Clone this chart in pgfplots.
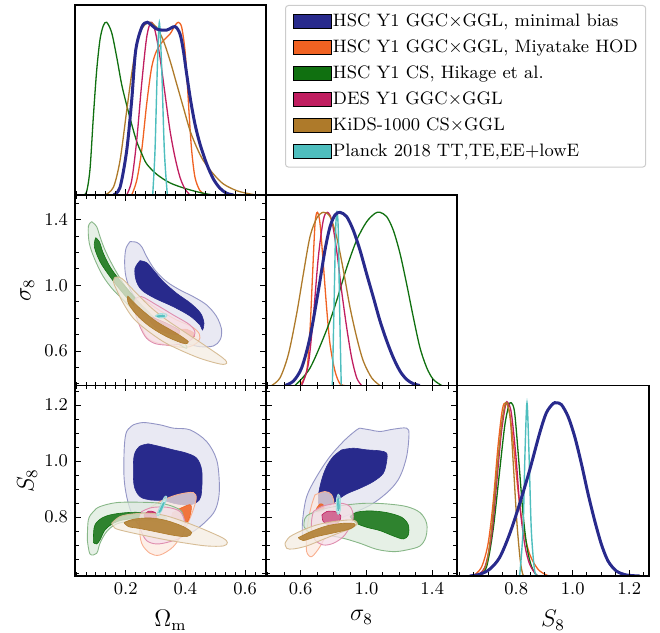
\documentclass[border=0pt]{standalone}
\usepackage{pgfplots}
\pgfplotsset{compat=1.18}

\definecolor{cB}{RGB}{40,42,140}
\definecolor{cO}{RGB}{240,98,34}
\definecolor{cG}{RGB}{16,112,16}
\definecolor{cM}{RGB}{192,30,96}
\definecolor{cK}{RGB}{174,122,42}
\definecolor{cC}{RGB}{78,190,190}

\pgfplotsset{
  corner/.style={scale only axis, width=95.5pt, height=95.25pt, anchor=south west,
    axis on top, clip=true,
    axis line style={line width=0.9pt}, tick align=inside,
    major tick length=3pt, minor tick length=1.8pt,
    tick style={black, line width=0.45pt},
    tick label style={font=\fontsize{9.3}{11}\selectfont},
    label style={font=\fontsize{12}{14}\selectfont},
    x tick label style={/pgf/number format/.cd, fixed, fixed zerofill, precision=1},
    y tick label style={/pgf/number format/.cd, fixed, fixed zerofill, precision=1},
    xlabel style={at={(axis description cs:0.5,0)}, anchor=north, yshift=-17pt, inner sep=0pt},
    ylabel style={at={(axis description cs:-0.25,0.5)}, anchor=center, inner sep=0pt}},
  xOm/.style={xmin=0.03, xmax=0.67, xtick={0.2,0.4,0.6},
    minor xtick={0.0333,0.0667,0.1,0.1333,0.1667,0.2333,0.2667,0.3,0.3333,0.3667,0.4333,0.4667,0.5,0.5333,0.5667,0.6333,0.6667}},
  xsig/.style={xmin=0.39, xmax=1.55, xtick={0.6,1.0,1.4}, minor xtick={0.4,0.5,0.7,0.8,0.9,1.1,1.2,1.3,1.5}},
  ysig/.style={ymin=0.39, ymax=1.55, ytick={0.6,1.0,1.4}, minor ytick={0.4,0.5,0.7,0.8,0.9,1.1,1.2,1.3,1.5}},
  xS/.style={xmin=0.59, xmax=1.27, xtick={0.8,1.0,1.2}, minor xtick={0.6,0.65,0.7,0.75,0.85,0.9,0.95,1.05,1.1,1.15,1.25}},
  yS/.style={ymin=0.59, ymax=1.27, ytick={0.8,1.0,1.2}, minor ytick={0.6,0.65,0.7,0.75,0.85,0.9,0.95,1.05,1.1,1.15,1.25}},
  dens/.style={ymin=0, ymax=1.1, ytick=\empty, xtick pos=left},
  cout/.style={smooth, tension=0.55, draw=#1!50!white, line width=0.45pt, fill=#1!14!white, fill opacity=0.75, forget plot},
  cin/.style={smooth, tension=0.55, draw=#1, line width=0.3pt, fill=#1, fill opacity=0.85, forget plot},
  pd/.style={smooth, tension=0.5, color=#1, line width=0.65pt, forget plot},
}

\begin{document}
\begin{tikzpicture}
\useasboundingbox (0,0) rectangle (330pt,316.5pt);

% ---------------- Omega_m marginal ----------------
\begin{axis}[corner, dens, xOm, xticklabels={}, at={(37.5pt,219pt)}, height=95pt,
  legend cell align=left,
  legend image code/.code={\fill[#1, sharp corners] (0pt,-3.4pt) rectangle (19.2pt,3.4pt);},
  legend style={at={(1.0995,1.0)}, anchor=north west, draw=black!20, line width=0.5pt,
    rounded corners=1.5pt, fill=white, font=\fontsize{9}{11}\selectfont,
    inner xsep=3.5pt, inner ysep=3pt, row sep=3.2pt,
    nodes={inner sep=0.5pt, text height=6.8pt, text depth=2pt},
    /tikz/every even column/.append style={column sep=7pt}}]
\addlegendimage{fill=cB}\addlegendentry{HSC Y1 GGC$\times$GGL, minimal bias}
\addlegendimage{fill=cO}\addlegendentry{HSC Y1 GGC$\times$GGL, Miyatake HOD}
\addlegendimage{fill=cG}\addlegendentry{HSC Y1 CS, Hikage et al.}
\addlegendimage{fill=cM}\addlegendentry{DES Y1 GGC$\times$GGL}
\addlegendimage{fill=cK}\addlegendentry{KiDS-1000 CS$\times$GGL}
\addlegendimage{fill=cC}\addlegendentry{Planck 2018 TT,TE,EE+lowE}
\addplot[pd=cO] coordinates {(0.2199,0) (0.2367,0.083) (0.2534,0.257) (0.2702,0.527) (0.2869,0.739) (0.3037,0.836) (0.326,0.894) (0.3484,0.932) (0.3651,0.981) (0.3763,1.0) (0.3875,0.971) (0.3986,0.836) (0.4064,0.643) (0.4131,0.45) (0.421,0.257) (0.4321,0.102) (0.4489,0.025) (0.4712,0)};
\addplot[pd=cG] coordinates {(0.058,0) (0.0691,0.02) (0.0803,0.15) (0.0914,0.45) (0.1026,0.72) (0.1138,0.90) (0.1249,0.98) (0.1361,1.0) (0.1529,0.94) (0.1696,0.80) (0.1864,0.64) (0.2032,0.52) (0.2199,0.41) (0.2367,0.31) (0.2534,0.24) (0.2702,0.18) (0.3037,0.12) (0.3484,0.07) (0.4042,0.035) (0.4601,0.01) (0.4936,0)};
\addplot[pd=cM] coordinates {(0.2032,0) (0.2199,0.083) (0.2367,0.315) (0.2534,0.643) (0.2702,0.913) (0.2847,1.0) (0.2981,0.952) (0.3148,0.797) (0.3316,0.585) (0.3484,0.373) (0.3651,0.218) (0.3819,0.102) (0.3986,0.035) (0.4154,0)};
\addplot[pd=cK] coordinates {(0.1305,0) (0.1585,0.044) (0.1808,0.199) (0.2032,0.488) (0.2199,0.701) (0.2367,0.875) (0.2534,0.961) (0.2702,0.994) (0.2813,1.0) (0.3037,0.971) (0.326,0.894) (0.3484,0.778) (0.3707,0.643) (0.3931,0.507) (0.4154,0.373) (0.4377,0.276) (0.4601,0.199) (0.4936,0.122) (0.5271,0.064) (0.5718,0.025) (0.6164,0.006) (0.6388,0)};
\addplot[pd=cC, line width=0.7pt] coordinates {(0.2903,0) (0.2981,0.257) (0.3059,0.739) (0.3126,1.0) (0.3204,0.739) (0.3294,0.257) (0.3394,0)};
\addplot[pd=cB, line width=1.5pt] coordinates {(0.1585,0) (0.1808,0.044) (0.2032,0.257) (0.2199,0.546) (0.2333,0.836) (0.2534,0.97) (0.2724,1.0) (0.3037,0.961) (0.3372,0.955) (0.3651,0.975) (0.3819,0.932) (0.3931,0.836) (0.4042,0.70) (0.4176,0.546) (0.4321,0.41) (0.4489,0.295) (0.4712,0.18) (0.4936,0.093) (0.5159,0.039) (0.5383,0.01) (0.561,0)};
\end{axis}

% ---------------- sigma_8 vs Omega_m ----------------
\begin{axis}[corner, xOm, ysig, xticklabels={}, ylabel={$\sigma_8$}, at={(37.5pt,123.75pt)}]
\addplot[cout=cB] coordinates {(0.2143,1.2658) (0.2367,1.2617) (0.2534,1.2354) (0.2702,1.1745) (0.2981,1.0933) (0.3372,1.0222) (0.3819,0.9715) (0.4265,0.9309) (0.4712,0.8802) (0.5047,0.8091) (0.5215,0.7279) (0.5159,0.667) (0.4936,0.6305) (0.4489,0.6264) (0.4042,0.6467) (0.3595,0.6873) (0.3149,0.7482) (0.2758,0.8193) (0.2478,0.8802) (0.2255,0.941) (0.2087,1.0019) (0.1987,1.073) (0.1965,1.1542) (0.2009,1.2252) (0.2143,1.2658)};
\addplot[cin=cB, fill opacity=1] coordinates {(0.2478,1.1501) (0.2702,1.1379) (0.2925,1.0933) (0.326,1.0222) (0.3707,0.9512) (0.4176,0.8903) (0.4511,0.8294) (0.4623,0.7685) (0.4567,0.7279) (0.4489,0.7584) (0.4154,0.8132) (0.3595,0.87) (0.2981,0.9208) (0.2534,0.9715) (0.2344,1.0324) (0.2311,1.1034) (0.2478,1.1501)};
\addplot[cout=cO] coordinates {(0.2422,0.9269) (0.2702,0.9005) (0.3149,0.8457) (0.3707,0.7888) (0.421,0.7482) (0.4467,0.7036) (0.4433,0.6569) (0.4042,0.6224) (0.3372,0.6366) (0.2814,0.667) (0.2568,0.7279) (0.2478,0.8091) (0.2389,0.8802) (0.2422,0.9269)};
\addplot[cin=cO] coordinates {(0.3651,0.732) (0.4042,0.732) (0.4288,0.7076) (0.4243,0.6751) (0.3931,0.667) (0.3651,0.6914) (0.3651,0.732)};
\addplot[cout=cG] coordinates {(0.0859,1.3876) (0.1026,1.3571) (0.1138,1.2962) (0.1306,1.2151) (0.1585,1.1136) (0.192,1.012) (0.2255,0.9309) (0.2702,0.8497) (0.3149,0.7685) (0.3595,0.7076) (0.3986,0.6467) (0.4042,0.6163) (0.3819,0.6366) (0.3372,0.6873) (0.2925,0.7482) (0.2478,0.8091) (0.2032,0.8903) (0.1585,0.9715) (0.125,1.0527) (0.0971,1.1542) (0.078,1.2556) (0.0747,1.3571) (0.0859,1.3876)};
\addplot[cin=cG] coordinates {(0.0993,1.2902) (0.1116,1.2658) (0.125,1.1948) (0.1473,1.1136) (0.1752,1.0425) (0.2087,0.9715) (0.2478,0.8903) (0.2925,0.8091) (0.3372,0.7482) (0.3707,0.6873) (0.354,0.6873) (0.3149,0.738) (0.2702,0.799) (0.2255,0.8802) (0.1864,0.9613) (0.1473,1.0527) (0.1138,1.144) (0.0948,1.2354) (0.0993,1.2902)};
\addplot[cout=cM] coordinates {(0.2311,0.9147) (0.2534,0.9309) (0.3037,0.8802) (0.3595,0.8193) (0.4154,0.7584) (0.432,0.7076) (0.4098,0.6569) (0.3595,0.6366) (0.3037,0.6427) (0.2702,0.6772) (0.2478,0.7482) (0.2311,0.8396) (0.2311,0.9147)};
\addplot[cin=cM, fill opacity=0.6] coordinates {(0.2900,0.8050) (0.3372,0.7685) (0.3800,0.7250) (0.3680,0.7000) (0.3149,0.7250) (0.2820,0.7800) (0.2900,0.8050)};
\addplot[cout=cK] coordinates {(0.1641,1.0487) (0.1864,1.0426) (0.2255,0.9715) (0.2814,0.87) (0.3372,0.7888) (0.4042,0.7076) (0.4712,0.6264) (0.5271,0.5554) (0.5383,0.525) (0.5159,0.5209) (0.4489,0.5554) (0.3819,0.6061) (0.326,0.6569) (0.2702,0.7279) (0.2255,0.799) (0.192,0.8903) (0.1697,0.9715) (0.1585,1.0223) (0.1641,1.0487)};
\addplot[cin=cK] coordinates {(0.2065,0.935) (0.2478,0.8599) (0.3037,0.7787) (0.3707,0.7076) (0.4098,0.6569) (0.3931,0.6467) (0.3372,0.6873) (0.2814,0.7482) (0.2367,0.8193) (0.2087,0.8903) (0.2065,0.935)};
\addplot[cout=cC, fill=cC!30!white] coordinates {(0.2981,0.8132) (0.3149,0.8274) (0.3372,0.8233) (0.3339,0.8071) (0.3149,0.801) (0.2981,0.8132)};
\addplot[cin=cC] coordinates {(0.3037,0.8132) (0.3239,0.8193) (0.3306,0.8112) (0.3104,0.8071) (0.3037,0.8132)};
\end{axis}

% ---------------- S_8 vs Omega_m ----------------
\begin{axis}[corner, xOm, yS, xlabel={$\Omega_{\mathrm{m}}$}, ylabel={$S_8$}, at={(37.5pt,28.5pt)}]
\addplot[cout=cB] coordinates {(0.2255,1.1296) (0.259,1.1379) (0.3149,1.1296) (0.3595,1.1177) (0.4154,1.1117) (0.4712,1.07) (0.5047,1.0045) (0.5137,0.9212) (0.5103,0.8616) (0.4936,0.814) (0.4489,0.7663) (0.4042,0.7365) (0.3484,0.7211) (0.2925,0.7282) (0.2478,0.7663) (0.2199,0.814) (0.2032,0.8735) (0.1942,0.945) (0.1953,1.0522) (0.2032,1.1058) (0.2255,1.1296)};
\addplot[cin=cB, fill opacity=1] coordinates {(0.2758,1.0617) (0.3149,1.0522) (0.3595,1.0403) (0.4042,1.0284) (0.4377,1.0105) (0.4545,0.9688) (0.4545,0.8973) (0.4467,0.8616) (0.4154,0.8437) (0.3707,0.8473) (0.326,0.8592) (0.2814,0.8616) (0.2478,0.8735) (0.2288,0.9092) (0.2255,0.9688) (0.2288,1.0224) (0.2456,1.0522) (0.2758,1.0617)};
\addplot[cout=cO] coordinates {(0.2702,0.8259) (0.3149,0.8557) (0.3707,0.8795) (0.4265,0.8878) (0.4355,0.8616) (0.4176,0.8021) (0.3931,0.7484) (0.3595,0.6948) (0.3149,0.665) (0.2814,0.671) (0.2534,0.7068) (0.2478,0.7663) (0.2702,0.8259)};
\addplot[cin=cO] coordinates {(0.3573,0.8164) (0.3908,0.8354) (0.4176,0.8437) (0.4176,0.814) (0.4042,0.7806) (0.3763,0.7842) (0.354,0.7925) (0.3573,0.8164)};
\addplot[cout=cG] coordinates {(0.0713,0.7187) (0.0747,0.7901) (0.0915,0.8199) (0.1138,0.8378) (0.1697,0.852) (0.2478,0.8533) (0.3149,0.8497) (0.3595,0.8378) (0.3875,0.8199) (0.3931,0.7842) (0.3763,0.7663) (0.3372,0.7758) (0.2814,0.7877) (0.2255,0.7877) (0.1697,0.7758) (0.1361,0.7484) (0.1138,0.7068) (0.1026,0.671) (0.0803,0.6686) (0.0713,0.7187)};
\addplot[cin=cG] coordinates {(0.0915,0.7091) (0.0948,0.7663) (0.1138,0.7925) (0.1473,0.808) (0.2032,0.8163) (0.259,0.8163) (0.326,0.8044) (0.3372,0.7901) (0.3037,0.7901) (0.2478,0.7961) (0.192,0.7901) (0.1585,0.7782) (0.1306,0.7544) (0.1138,0.7187) (0.1026,0.7044) (0.0915,0.7091)};
\addplot[cout=cM] coordinates {(0.2534,0.8199) (0.287,0.8342) (0.3372,0.8354) (0.3819,0.8199) (0.3986,0.7782) (0.3875,0.7306) (0.3484,0.7127) (0.3037,0.7044) (0.2702,0.7163) (0.25,0.7544) (0.2456,0.7901) (0.2534,0.8199)};
\addplot[cin=cM] coordinates {(0.2612,0.808) (0.2758,0.8211) (0.2981,0.8175) (0.3037,0.7997) (0.2814,0.7925) (0.2646,0.7973) (0.2612,0.808)};
\addplot[cout=cK] coordinates {(0.1529,0.7782) (0.1808,0.8021) (0.2255,0.8116) (0.2814,0.814) (0.3372,0.8044) (0.4042,0.7806) (0.4712,0.752) (0.5271,0.7246) (0.5405,0.7091) (0.5271,0.6972) (0.4712,0.6972) (0.4042,0.7068) (0.3372,0.7187) (0.2702,0.733) (0.2032,0.7484) (0.1641,0.7604) (0.1529,0.7782)};
\addplot[cin=cK] coordinates {(0.1942,0.7806) (0.2255,0.7925) (0.2814,0.7973) (0.3372,0.7877) (0.3931,0.7663) (0.421,0.7449) (0.4042,0.7306) (0.3595,0.7353) (0.3037,0.7473) (0.2478,0.7592) (0.2087,0.7663) (0.1942,0.7806)};
\addplot[cout=cC, fill=cC!30!white] coordinates {(0.3037,0.808) (0.3149,0.8378) (0.3294,0.8712) (0.3372,0.8735) (0.3339,0.8557) (0.3205,0.8235) (0.3093,0.8056) (0.3037,0.808)};
\addplot[cin=cC] coordinates {(0.3104,0.8163) (0.3238,0.8473) (0.3294,0.852) (0.3182,0.8235) (0.3104,0.8163)};
\end{axis}

% ---------------- sigma_8 marginal ----------------
\begin{axis}[corner, dens, xsig, xticklabels={}, at={(133pt,123.75pt)}]
\addplot[pd=cO] coordinates {(0.596,0) (0.637,0.083) (0.657,0.316) (0.673,0.645) (0.688,0.936) (0.702,1.0) (0.718,0.936) (0.738,0.703) (0.758,0.451) (0.779,0.238) (0.809,0.083) (0.839,0.010) (0.870,0)};
\addplot[pd=cG] coordinates {(0.566,0) (0.657,0.10) (0.758,0.32) (0.819,0.49) (0.880,0.68) (0.941,0.84) (1.001,0.945) (1.052,0.994) (1.082,1.0) (1.123,0.975) (1.163,0.897) (1.204,0.762) (1.244,0.587) (1.285,0.393) (1.325,0.219) (1.366,0.103) (1.406,0.035) (1.457,0)};
\addplot[pd=cM] coordinates {(0.607,0) (0.647,0.122) (0.677,0.393) (0.708,0.742) (0.738,0.955) (0.762,1.0) (0.789,0.955) (0.819,0.781) (0.849,0.548) (0.880,0.335) (0.910,0.161) (0.941,0.044) (0.971,0)};
\addplot[pd=cK] coordinates {(0.424,0) (0.475,0.044) (0.526,0.180) (0.576,0.413) (0.617,0.645) (0.657,0.858) (0.698,0.966) (0.738,1.0) (0.779,0.975) (0.819,0.858) (0.860,0.665) (0.900,0.452) (0.941,0.277) (0.981,0.141) (1.032,0.044) (1.082,0)};
\addplot[pd=cC, line width=0.7pt] coordinates {(0.793,0) (0.803,0.451) (0.813,0.897) (0.821,1.0) (0.829,0.897) (0.837,0.451) (0.847,0)};
\addplot[pd=cB, line width=1.5pt] coordinates {(0.505,0) (0.556,0.025) (0.607,0.103) (0.657,0.277) (0.708,0.548) (0.748,0.781) (0.779,0.917) (0.809,0.984) (0.839,1.0) (0.880,0.975) (0.920,0.897) (0.961,0.781) (1.001,0.645) (1.042,0.509) (1.082,0.374) (1.123,0.258) (1.163,0.161) (1.204,0.083) (1.244,0.035) (1.285,0.010) (1.325,0)};
\end{axis}

% ---------------- S_8 vs sigma_8 ----------------
\begin{axis}[corner, xsig, yS, yticklabels={}, xlabel={$\sigma_8$}, at={(133pt,28.5pt)}]
\addplot[cout=cB] coordinates {(0.9608,1.1177) (1.0215,1.1117) (1.0822,1.1058) (1.1632,1.1141) (1.2442,1.1177) (1.2583,1.0939) (1.2442,1.0165) (1.2037,0.945) (1.1429,0.8973) (1.0418,0.8497) (0.9406,0.8199) (0.8191,0.7901) (0.7179,0.7544) (0.637,0.7187) (0.6127,0.7306) (0.6127,0.7901) (0.637,0.8735) (0.6977,0.945) (0.7786,1.0165) (0.8697,1.076) (0.9406,1.1117) (0.9608,1.1177)};
\addplot[cin=cB, fill opacity=1] coordinates {(0.8495,1.0403) (0.9203,1.0462) (1.0013,1.0403) (1.0822,1.0367) (1.1227,1.0284) (1.1227,0.9986) (1.1025,0.9569) (1.0418,0.9271) (0.9608,0.9033) (0.8798,0.8831) (0.8191,0.8592) (0.7584,0.8318) (0.7179,0.8318) (0.7078,0.8735) (0.728,0.9331) (0.7584,0.9807) (0.7989,1.0165) (0.8495,1.0403)};
\addplot[cout=cO] coordinates {(0.6876,0.8795) (0.7483,0.8914) (0.7888,0.8795) (0.8029,0.8437) (0.7888,0.7901) (0.7584,0.7425) (0.7179,0.6948) (0.6673,0.6591) (0.637,0.677) (0.637,0.7306) (0.6471,0.7901) (0.6673,0.8437) (0.6876,0.8795)};
\addplot[cin=cO] coordinates {(0.6977,0.8318) (0.7179,0.8473) (0.7382,0.8437) (0.7422,0.8259) (0.7179,0.8187) (0.6977,0.8199) (0.6977,0.8318)};
\addplot[cout=cG] coordinates {(0.6208,0.7663) (0.637,0.8044) (0.7584,0.8318) (0.8798,0.8437) (1.0013,0.8497) (1.1227,0.8473) (1.2442,0.8378) (1.3251,0.8164) (1.3656,0.7782) (1.3616,0.7306) (1.3251,0.6972) (1.2442,0.6829) (1.1632,0.677) (1.062,0.6853) (0.9608,0.7068) (0.8596,0.7246) (0.7584,0.7365) (0.6572,0.7449) (0.6208,0.7663)};
\addplot[cin=cG] coordinates {(0.9001,0.8021) (0.9406,0.8175) (1.0215,0.8223) (1.1227,0.8164) (1.2138,0.7997) (1.2543,0.7723) (1.2543,0.7365) (1.2239,0.7222) (1.1632,0.733) (1.0822,0.752) (1.0013,0.7639) (0.9406,0.7782) (0.9001,0.8021)};
\addplot[cout=cM] coordinates {(0.6774,0.8199) (0.7382,0.8401) (0.8394,0.8497) (0.9001,0.8378) (0.9203,0.8021) (0.9001,0.7663) (0.8596,0.7306) (0.7989,0.7068) (0.7382,0.7008) (0.6876,0.7187) (0.6673,0.7544) (0.6673,0.7901) (0.6774,0.8199)};
\addplot[cin=cM, fill opacity=0.6] coordinates {(0.7300,0.8080) (0.7584,0.8200) (0.8100,0.8200) (0.8450,0.8050) (0.8300,0.7820) (0.7786,0.7720) (0.7380,0.7840) (0.7300,0.8080)};
\addplot[cout=cK] coordinates {(0.5054,0.7068) (0.5358,0.7306) (0.6167,0.7544) (0.6977,0.7723) (0.7989,0.7842) (0.9102,0.7901) (0.9446,0.7782) (0.9102,0.7604) (0.8394,0.7449) (0.7382,0.7211) (0.637,0.6972) (0.556,0.6865) (0.5155,0.6889) (0.5054,0.7068)};
\addplot[cin=cK] coordinates {(0.5864,0.727) (0.6572,0.7473) (0.7584,0.7687) (0.8596,0.7782) (0.9304,0.7758) (0.9041,0.7592) (0.809,0.7449) (0.6977,0.7306) (0.6167,0.7163) (0.5864,0.727)};
\addplot[cout=cC, fill=cC!30!white] coordinates {(0.8191,0.8676) (0.8292,0.8819) (0.8414,0.8676) (0.8414,0.8259) (0.8292,0.8104) (0.8171,0.8259) (0.8191,0.8676)};
\addplot[cin=cC] coordinates {(0.8232,0.8592) (0.8313,0.8664) (0.8353,0.8318) (0.8272,0.8235) (0.8232,0.8592)};
\end{axis}

% ---------------- S_8 marginal ----------------
\begin{axis}[corner, dens, xS, xlabel={$S_8$}, at={(228.5pt,28.5pt)}, width=96pt]
\addplot[pd=cO] coordinates {(0.6467,0) (0.6762,0.049) (0.6998,0.184) (0.7175,0.417) (0.7352,0.748) (0.7506,0.961) (0.7624,1.0) (0.7765,0.942) (0.7907,0.748) (0.806,0.495) (0.8238,0.282) (0.8474,0.126) (0.8769,0.039) (0.9064,0.006) (0.9182,0)};
\addplot[pd=cG] coordinates {(0.6644,0) (0.6939,0.049) (0.7175,0.262) (0.7388,0.573) (0.7588,0.864) (0.773,0.981) (0.7824,1.0) (0.7942,0.942) (0.8096,0.65) (0.8238,0.359) (0.8379,0.165) (0.8533,0.058) (0.871,0.006) (0.8828,0)};
\addplot[pd=cM] coordinates {(0.6585,0) (0.688,0.049) (0.7116,0.223) (0.7293,0.515) (0.747,0.825) (0.7624,0.99) (0.7706,1.0) (0.7824,0.942) (0.7978,0.709) (0.8119,0.417) (0.8297,0.184) (0.8474,0.068) (0.871,0.006) (0.8828,0)};
\addplot[pd=cK] coordinates {(0.6703,0) (0.6939,0.068) (0.7116,0.262) (0.7293,0.573) (0.747,0.864) (0.7588,0.981) (0.7671,1.0) (0.7789,0.903) (0.7907,0.612) (0.8025,0.301) (0.8143,0.087) (0.8238,0.006) (0.8332,0)};
\addplot[pd=cC, line width=0.7pt] coordinates {(0.8119,0) (0.8238,0.262) (0.8308,0.709) (0.8379,1.0) (0.845,0.709) (0.8533,0.262) (0.8651,0.029) (0.8769,0)};
\addplot[pd=cB, line width=1.5pt] coordinates {(0.6349,0) (0.6703,0.01) (0.7057,0.039) (0.7411,0.107) (0.7765,0.243) (0.8119,0.417) (0.8474,0.612) (0.8828,0.825) (0.9064,0.942) (0.93,0.995) (0.9418,1.0) (0.9595,0.99) (0.9831,0.922) (1.0067,0.806) (1.0304,0.65) (1.054,0.476) (1.0776,0.320) (1.1012,0.184) (1.1248,0.087) (1.1543,0.029) (1.1897,0.006) (1.237,0)};
\end{axis}
\end{tikzpicture}
\end{document}
